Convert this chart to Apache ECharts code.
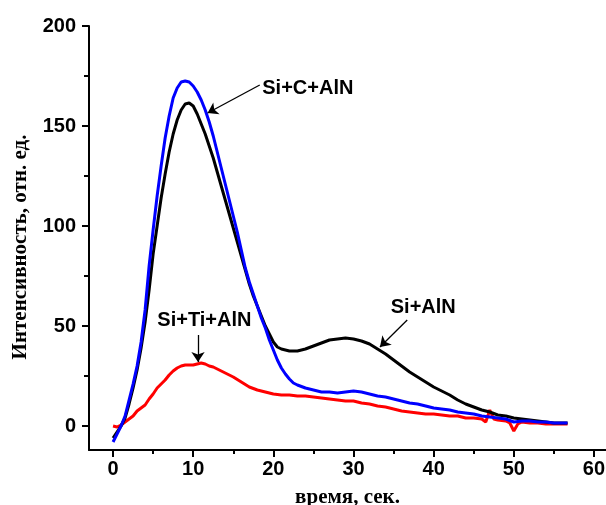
<!DOCTYPE html>
<html>
<head>
<meta charset="utf-8">
<script src="https://cdn.jsdelivr.net/npm/echarts@6/dist/echarts.min.js"></script>
<style>
  html, body { margin: 0; padding: 0; background: #fff; }
  #chart { width: 606px; height: 505px; }
</style>
</head>
<body>
<div id="chart"></div>
<script>
// Tick values
const xTickLabels = [0, 10, 20, 30, 40, 50, 60];
const xMinorTicks = [5, 15, 25, 35, 45, 55];
const yTickLabels = [0, 50, 100, 150, 200];
const yMinorTicks = [25, 75, 125, 175];

// Si+C+AlN (blue)
const timeSiCAlN = [0, 0.5, 1, 1.5, 2, 2.5, 3, 3.5, 4, 4.5, 5, 5.5, 6, 6.5, 7, 7.5, 8, 8.5, 9, 9.5,
  10, 10.5, 11, 11.5, 12, 12.5, 13, 13.5, 14, 14.5, 15, 15.5, 16, 16.5, 17, 17.5, 18, 18.5, 19, 19.5,
  20, 20.5, 21, 21.5, 22, 22.5, 23, 24, 25, 26, 27, 28, 29, 30, 31, 32, 33, 34, 35, 36, 37, 38, 39,
  40, 41, 42, 43, 44, 45, 46, 47, 48, 49, 50, 51, 52, 53, 54, 55, 56, 56.7];
const valSiCAlN = [-8, -4, 0, 5, 13, 21, 30, 42, 58, 80, 98, 115, 130, 144, 155, 164, 169, 172, 172.5, 172,
  170, 167, 163, 158, 152, 145, 137, 129, 121, 113, 105, 97, 88, 79, 72, 66, 60, 54, 49, 43,
  38, 33, 29, 26, 23.5, 21.5, 20.5, 19, 18, 17, 17, 16.5, 17, 17.5, 17, 16, 15, 14.5, 13.5, 12.5, 11.5, 11, 10,
  9, 8.5, 8, 7, 6.5, 6, 5, 4.5, 4, 3.5, 2, 2.5, 2.5, 2, 2, 1.5, 1.5, 1.5];

// Si+AlN (black)
const timeSiAlN = [0, 0.5, 1, 1.5, 2, 2.5, 3, 3.5, 4, 4.5, 5, 5.5, 6, 6.5, 7, 7.5, 8, 8.5, 9, 9.5,
  10, 10.5, 11, 11.5, 12, 12.5, 13, 13.5, 14, 14.5, 15, 15.5, 16, 16.5, 17, 17.5, 18, 18.5, 19, 19.5,
  20, 20.5, 21, 21.5, 22, 22.5, 23, 23.5, 24, 25, 26, 27, 28, 29, 30, 31, 32, 33, 34, 35, 36, 37, 38, 39,
  40, 41, 42, 43, 44, 45, 46, 47, 48, 49, 50, 51, 52, 53, 54, 55, 56, 56.7];
const valSiAlN = [-6, -3, 0, 4, 11, 19, 28, 39, 52, 68, 86, 100, 114, 126, 137, 146, 153, 158, 161, 161.5,
  160, 156, 151, 146, 140, 134, 127, 120, 113, 106, 99, 92, 85, 78, 71, 65, 60, 55, 50, 46,
  42, 39.5, 38.5, 38, 37.5, 37.5, 37.5, 38, 38.5, 40, 41.5, 43, 43.5, 44, 43.5, 42.5, 41, 38.5, 36, 33, 30, 27, 24.5, 22,
  19.5, 17.5, 15.5, 13, 11, 9.5, 8, 7, 5.5, 5, 4, 3.5, 3, 2.5, 2, 1.5, 1.5, 1.5];

// Si+Ti+AlN (red)
const timeSiTiAlN = [0, 0.5, 1, 1.5, 2, 2.5, 3, 3.5, 4, 4.5, 5, 5.5, 6, 6.5, 7, 7.5, 8, 8.5, 9, 9.5,
  10, 10.5, 11, 11.5, 12, 12.5, 13, 13.5, 14, 15, 16, 17, 18, 19, 20, 21, 22, 23, 24, 25, 26, 27, 28, 29,
  30, 31, 32, 33, 34, 35, 36, 37, 38, 39, 40, 41, 42, 43, 44, 45, 46, 46.5, 47, 47.5, 48, 49, 49.5, 50, 50.5,
  51, 52, 53, 54, 55, 56, 56.7];
const valSiTiAlN = [0, -0.5, 0.5, 2, 3.5, 5, 7.5, 9, 10.5, 13.5, 16, 19, 21, 23, 25.5, 27.5, 29, 30, 30.5, 30.5,
  30.5, 31, 31.5, 31, 30, 29.5, 28.5, 27.5, 26.5, 24.5, 22, 19.5, 18, 17, 16, 15.5, 15.5, 15, 15, 14.5, 14, 13.5, 13, 12.5,
  12.5, 11.5, 11, 10, 9.5, 8.5, 7.5, 7, 6.5, 6, 6, 5.5, 5, 5, 4, 4, 3.5, 2, 8, 3.5, 3, 2.5, 1.5, -2.5, 1,
  2, 1.5, 1.5, 1, 1, 1, 1];

// Annotation texts and arrows (data coordinates)
const labelNames = ['Si+C+AlN', 'Si+AlN', 'Si+Ti+AlN'];
const labelAnchors = [[24.3, 169], [38.7, 59.5], [11.4, 53]];
const arrowStarts = [[18.3, 170.5], [36.7, 53], [10.6, 45.5]];
const arrowEnds = [[11.8, 156.5], [33.3, 39.5], [10.6, 32]];

const zip = (xs, ys) => xs.map((x, i) => [x, ys[i]]);

const chart = echarts.init(document.getElementById('chart'));

const tickFont = { fontFamily: 'Liberation Sans, Arial, sans-serif', fontWeight: 'bold', fontSize: 20, color: '#000' };
const nameFont = { fontFamily: 'Liberation Serif, Times New Roman, serif', fontWeight: 'bold', fontSize: 21, color: '#000' };

const X_MIN = -3, X_MAX = 61.5, Y_MIN = -12, Y_MAX = 200;

function lineSeries(name, data, color, z) {
  return {
    name, type: 'line', data, showSymbol: false, symbol: 'none', z,
    lineStyle: { color, width: 3 }, animation: false, xAxisIndex: 0, yAxisIndex: 0
  };
}

chart.setOption({
  animation: false,
  backgroundColor: '#fff',
  grid: { left: 89, right: 0, top: 26, bottom: 55, containLabel: false, outerBoundsMode: 'none' },
  xAxis: [
    {
      type: 'value', position: 'bottom', min: X_MIN, max: X_MAX,
      name: 'время, сек.', nameLocation: 'middle', nameGap: 37, nameTextStyle: nameFont,
      axisLine: { onZero: false, lineStyle: { color: '#000', width: 2 } },
      axisTick: { show: true, inside: false, length: 7, lineStyle: { color: '#000', width: 2 }, customValues: xTickLabels },
      axisLabel: Object.assign({ margin: 9, customValues: xTickLabels }, tickFont),
      splitLine: { show: false }
    },
    {
      type: 'value', position: 'bottom', min: X_MIN, max: X_MAX,
      axisLine: { show: false, onZero: false },
      axisTick: { show: true, inside: false, length: 4, lineStyle: { color: '#000', width: 2 }, customValues: xMinorTicks },
      axisLabel: { show: false },
      splitLine: { show: false }
    }
  ],
  yAxis: [
    {
      type: 'value', position: 'left', min: Y_MIN, max: Y_MAX,
      name: 'Интенсивность, отн. ед.', nameLocation: 'middle', nameGap: 58,
      nameTextStyle: Object.assign({ padding: [0, 0, 0, -18] }, nameFont),
      axisLine: { onZero: false, lineStyle: { color: '#000', width: 2 } },
      axisTick: { show: true, inside: false, length: 7, lineStyle: { color: '#000', width: 2 }, customValues: yTickLabels },
      axisLabel: Object.assign({ margin: 13, customValues: yTickLabels }, tickFont),
      splitLine: { show: false }
    },
    {
      type: 'value', position: 'left', min: Y_MIN, max: Y_MAX,
      axisLine: { show: false, onZero: false },
      axisTick: { show: true, inside: false, length: 5, lineStyle: { color: '#000', width: 2 }, customValues: yMinorTicks },
      axisLabel: { show: false },
      splitLine: { show: false }
    }
  ],
  series: [
    lineSeries('Si+Ti+AlN', zip(timeSiTiAlN, valSiTiAlN), '#ff0000', 2),
    lineSeries('Si+AlN', zip(timeSiAlN, valSiAlN), '#000000', 3),
    Object.assign(lineSeries('Si+C+AlN', zip(timeSiCAlN, valSiCAlN), '#0000ff', 4), {
      markLine: {
        silent: true, animation: false,
        symbol: ['none', 'arrow'], symbolSize: 10,
        label: { show: false },
        itemStyle: { color: '#000' },
        lineStyle: { color: '#000', width: 1.3, type: 'solid' },
        emphasis: { disabled: true },
        data: arrowStarts.map((s, i) => [{ coord: s }, { coord: arrowEnds[i] }])
      }
    })
  ]
});

// Place the curve names next to their arrows
const texts = labelNames.map((t, i) => {
  const p = chart.convertToPixel({ gridIndex: 0 }, labelAnchors[i]);
  return {
    type: 'text', x: p[0], y: p[1], z: 10,
    style: {
      text: t, fill: '#000', align: 'center', verticalAlign: 'middle',
      font: 'bold 20px "Liberation Sans", Arial, sans-serif'
    }
  };
});
chart.setOption({ graphic: texts });
</script>
</body>
</html>
